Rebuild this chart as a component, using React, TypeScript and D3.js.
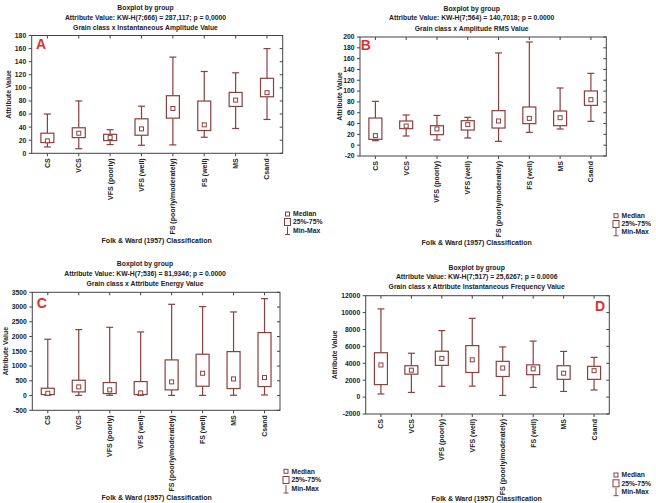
import React from 'react';
import * as d3 from 'd3';

const grainClasses = [
  'CS',
  'VCS',
  'VFS (poorly)',
  'VFS (well)',
  'FS (poorly/moderately)',
  'FS (well)',
  'MS',
  'Csand',
];

// Five-number summaries per grain class: [min, q1, median, q3, max]
const amplitudeStats = [
  [9.7, 16.4, 19, 30.7, 60],
  [7, 24, 30.7, 39, 80],
  [13.3, 19.5, 24, 29, 36],
  [12.3, 27.6, 37.3, 52.7, 72],
  [12.8, 53.7, 68.5, 88, 147],
  [24.5, 34.8, 43.5, 79.8, 125],
  [37.9, 71.6, 81.3, 93, 123],
  [51.7, 86.4, 92.6, 114.6, 160],
];
const rmsStats = [
  [8.3, 10.8, 17.6, 50.2, 81],
  [17, 30.5, 35.4, 44.7, 55.8],
  [9.6, 19.4, 30, 36, 55],
  [13.3, 28, 38, 45.3, 51.5],
  [7.1, 31.7, 44.7, 63.8, 170.5],
  [23.7, 39.8, 49.6, 70.6, 190.8],
  [29.9, 36, 50.8, 63.2, 105.7],
  [44, 73.6, 84.1, 100.2, 132.8],
];
const energyStats = [
  [10, 34, 79, 248, 1908],
  [5, 124, 294, 519, 2235],
  [10, 68, 192, 440, 2314],
  [10, 34, 90, 474, 2156],
  [5, 192, 463, 1208, 3093],
  [5, 316, 756, 1400, 3014],
  [10, 237, 564, 1490, 2834],
  [20, 305, 610, 2134, 3285],
];
const frequencyStats = [
  [370, 1475, 3800, 5250, 10440],
  [550, 2715, 3185, 3715, 5190],
  [1280, 3755, 4580, 5430, 7865],
  [1300, 2910, 4405, 6095, 9320],
  [197, 2440, 3440, 4230, 5940],
  [1144, 2655, 3343, 3815, 6628],
  [670, 2100, 2830, 3715, 5410],
  [845, 2100, 3125, 3640, 4700],
];

const amplitudeTicks = [0, 20, 40, 60, 80, 100, 120, 140, 160, 180];
const rmsTicks = [-20, 0, 20, 40, 60, 80, 100, 120, 140, 160, 180, 200];
const energyTicks = [-500, 0, 500, 1000, 1500, 2000, 2500, 3000, 3500];
const frequencyTicks = [-2000, 0, 2000, 4000, 6000, 8000, 10000, 12000];

const amplitudeTitles = [
  'Boxplot by group',
  'Attribute Value:  KW-H(7;666) = 287,117; p = 0,0000',
  'Grain class x Instantaneous Amplitude Value',
];
const rmsTitles = [
  'Boxplot by group',
  'Attribute Value:  KW-H(7;564) = 140,7018; p = 0.0000',
  'Grain class x Amplitude RMS Value',
];
const energyTitles = [
  'Boxplot by group',
  'Attribute Value:  KW-H(7;536) = 81,9346; p = 0.0000',
  'Grain class x Attribute Energy Value',
];
const frequencyTitles = [
  'Boxplot by group',
  'Attribute Value: KW-H(7;517) = 25,6267; p = 0.0006',
  'Grain class x Attribute Instantaneous Frequency Value',
];

const legendLabels = ['Median', '25%-75%', 'Min-Max'];
const xAxisTitle = 'Folk & Ward (1957) Classification';
const yAxisTitle = 'Attribute Value';

const BOX = '#8b3f3f';
const RED = '#e0302c';
const INK = '#222';
const FONT = "'Liberation Sans', Arial, sans-serif";

type PanelLayout = {
  left: number;
  right: number;
  top: number;
  bottom: number;
  titleX: number;
  titleY: number[];
  yLabelX: number;
  letter: string;
  letterX: number;
  letterY: number;
  xTitleX: number;
  xTitleY: number;
  legendX: number;
  legendY: number[];
};

function Panel({
  stats,
  ticks,
  titles,
  L,
}: {
  stats: number[][];
  ticks: number[];
  titles: string[];
  L: PanelLayout;
}) {
  const x = d3
    .scalePoint<string>()
    .domain(grainClasses)
    .range([L.left, L.right])
    .padding(0.5);
  const y = d3
    .scaleLinear()
    .domain([ticks[0], ticks[ticks.length - 1]])
    .range([L.bottom, L.top]);

  const boxW = 13;
  const capW = 7;

  return (
    <g fontFamily={FONT} fontWeight="bold" fill={INK}>
      {titles.map((t, i) => (
        <text key={i} x={L.titleX} y={L.titleY[i]} fontSize={6.8} textAnchor="middle" dy="0.35em">
          {t}
        </text>
      ))}

      {/* frame */}
      <rect
        x={L.left}
        y={L.top}
        width={L.right - L.left}
        height={L.bottom - L.top}
        fill="none"
        stroke="#444"
        strokeWidth={1}
      />

      {/* y ticks: outer on left, inner on right */}
      {ticks.map((t) => (
        <g key={t}>
          <line x1={L.left - 3} x2={L.left} y1={y(t)} y2={y(t)} stroke="#444" />
          <line x1={L.right - 3} x2={L.right} y1={y(t)} y2={y(t)} stroke="#444" />
          <text x={L.left - 5.5} y={y(t)} fontSize={6.8} textAnchor="end" dy="0.35em">
            {t}
          </text>
        </g>
      ))}

      {/* x ticks and category labels */}
      {grainClasses.map((c) => (
        <g key={c}>
          <line x1={x(c)} x2={x(c)} y1={L.bottom} y2={L.bottom + 3} stroke="#444" />
          <line x1={x(c)} x2={x(c)} y1={L.top} y2={L.top + 3} stroke="#444" />
          <text
            transform={`translate(${x(c)},${L.bottom + 5}) rotate(-90)`}
            fontSize={7}
            textAnchor="end"
            dy="0.35em"
          >
            {c}
          </text>
        </g>
      ))}

      {/* boxes */}
      {stats.map(([mn, q1, md, q3, mx], i) => {
        const cx = x(grainClasses[i]) as number;
        return (
          <g key={i} stroke={BOX} strokeWidth={1.2} fill="none">
            <line x1={cx} x2={cx} y1={y(mx)} y2={y(q3)} />
            <line x1={cx} x2={cx} y1={y(q1)} y2={y(mn)} />
            <line x1={cx - capW / 2} x2={cx + capW / 2} y1={y(mx)} y2={y(mx)} />
            <line x1={cx - capW / 2} x2={cx + capW / 2} y1={y(mn)} y2={y(mn)} />
            <rect x={cx - boxW / 2} y={y(q3)} width={boxW} height={y(q1) - y(q3)} fill="white" />
            <rect x={cx - 2} y={y(md) - 2} width={4} height={4} fill="white" strokeWidth={1} />
          </g>
        );
      })}

      <text x={L.letterX} y={L.letterY} fontSize={14} fill={RED} fontFamily={FONT} fontWeight="bold">
        {L.letter}
      </text>

      <text
        transform={`translate(${L.yLabelX},${(L.top + L.bottom) / 2}) rotate(-90)`}
        fontSize={6.9}
        textAnchor="middle"
        dy="0.35em"
      >
        {yAxisTitle}
      </text>

      <text x={L.xTitleX} y={L.xTitleY} fontSize={7} textAnchor="middle" dy="0.35em">
        {xAxisTitle}
      </text>

      {/* legend */}
      <g>
        <rect x={L.legendX - 2} y={L.legendY[0] - 2} width={4} height={4} fill="white" stroke={BOX} strokeWidth={1} />
        <rect x={L.legendX - 3} y={L.legendY[1] - 3.5} width={6} height={7} fill="white" stroke={BOX} strokeWidth={1} />
        <g stroke={BOX} strokeWidth={1}>
          <line x1={L.legendX} x2={L.legendX} y1={L.legendY[2] - 4} y2={L.legendY[2] + 4} />
          <line x1={L.legendX - 2.5} x2={L.legendX + 2.5} y1={L.legendY[2] + 4} y2={L.legendY[2] + 4} />
        </g>
        {legendLabels.map((t, i) => (
          <text key={t} x={L.legendX + 5.5} y={L.legendY[i]} fontSize={6.8} dy="0.35em">
            {t}
          </text>
        ))}
      </g>
    </g>
  );
}

const layoutA: PanelLayout = {
  left: 31.7, right: 282.7, top: 35.5, bottom: 153.3,
  titleX: 145.5, titleY: [7.5, 17.3, 27.3], yLabelX: 9,
  letter: 'A', letterX: 36, letterY: 49.3,
  xTitleX: 156.7, xTitleY: 240.7,
  legendX: 287.5, legendY: [214, 222, 230.5],
};
const layoutB: PanelLayout = {
  left: 360, right: 606.3, top: 37, bottom: 156,
  titleX: 471.7, titleY: [8.3, 17.9, 28.3], yLabelX: 340,
  letter: 'B', letterX: 360.7, letterY: 50,
  xTitleX: 476.7, xTitleY: 242.7,
  legendX: 616, legendY: [215.7, 224, 231.8],
};
const layoutC: PanelLayout = {
  left: 32.3, right: 280, top: 292.3, bottom: 410.3,
  titleX: 145, titleY: [263.3, 274, 283.3], yLabelX: 6,
  letter: 'C', letterX: 36.7, letterY: 308.3,
  xTitleX: 156.7, xTitleY: 498,
  legendX: 286, legendY: [471.3, 480, 489],
};
const layoutD: PanelLayout = {
  left: 365.7, right: 609.3, top: 295.7, bottom: 414,
  titleX: 476.7, titleY: [267.3, 276.7, 286.7], yLabelX: 335,
  letter: 'D', letterX: 595, letterY: 311,
  xTitleX: 486.7, xTitleY: 498.5,
  legendX: 616, legendY: [475, 483.3, 491.7],
};

export default function App() {
  return (
    <svg
      width={656}
      height={503}
      viewBox="0 0 656 503"
      style={{ position: 'absolute', left: 0, top: 0, background: 'white' }}
    >
      <rect width={656} height={503} fill="white" />
      <Panel stats={amplitudeStats} ticks={amplitudeTicks} titles={amplitudeTitles} L={layoutA} />
      <Panel stats={rmsStats} ticks={rmsTicks} titles={rmsTitles} L={layoutB} />
      <Panel stats={energyStats} ticks={energyTicks} titles={energyTitles} L={layoutC} />
      <Panel stats={frequencyStats} ticks={frequencyTicks} titles={frequencyTitles} L={layoutD} />
    </svg>
  );
}
